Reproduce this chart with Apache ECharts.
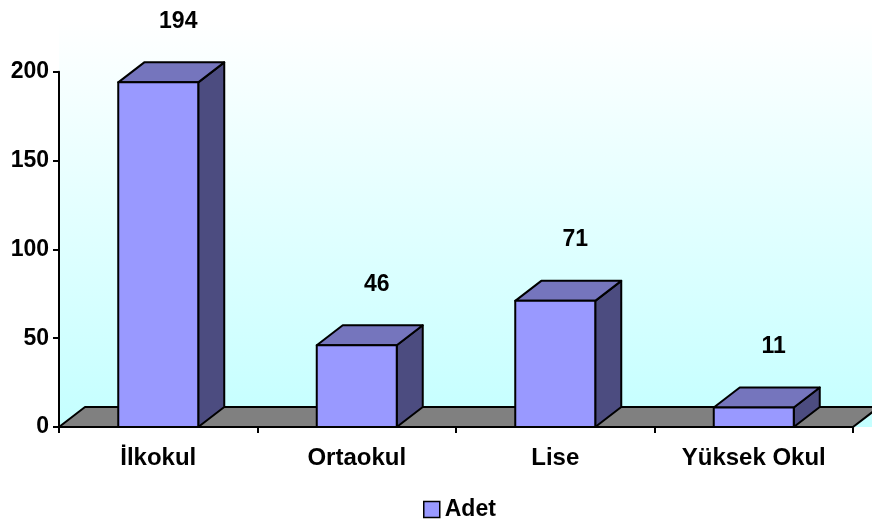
<!DOCTYPE html>
<html>
<head>
<meta charset="utf-8">
<script src="https://cdn.jsdelivr.net/npm/echarts@6/dist/echarts.min.js"></script>
<style>html,body{margin:0;padding:0;background:#fff;}#c{width:872px;height:530px;}</style>
</head>
<body>
<div id="c"></div>
<script>
const categories = ['İlkokul', 'Ortaokul', 'Lise', 'Yüksek Okul'];
const values = [194, 46, 71, 11];
const seriesName = 'Adet';
const yMin = 0, yMax = 200, yStep = 50;

const FONT = '"Liberation Sans", Arial, sans-serif';
const DX = 26, DY = -20;

const chart = echarts.init(document.getElementById('c'), null, {renderer: 'canvas'});

function renderFloor(params, api) {
  const cs = params.coordSys;
  const yb = cs.y + cs.height;
  return {
    type: 'group',
    children: [
      {
        type: 'rect',
        shape: {x: cs.x, y: 20, width: 872 - cs.x, height: yb - 20},
        style: {
          fill: new echarts.graphic.LinearGradient(0, 0, 0, 1, [
            {offset: 0, color: '#FFFFFF'},
            {offset: 1, color: '#C4FFFF'}
          ])
        },
        silent: true
      },
      {
        type: 'polygon',
        shape: {points: [[cs.x, yb], [cs.x + cs.width, yb], [cs.x + cs.width + DX, yb + DY], [cs.x + DX, yb + DY]]},
        style: {fill: '#808080', stroke: '#000', lineWidth: 2, lineJoin: 'round'},
        silent: true
      }
    ]
  };
}

function renderBar(params, api) {
  const i = api.value(0), v = api.value(1);
  const base = api.coord([i, 0]);
  const top = api.coord([i, v]);
  const w = api.size([1, 0])[0] * 0.403;
  const x0 = base[0] - w / 2, x1 = base[0] + w / 2;
  const yb = base[1], yt = top[1];
  const st = {stroke: '#000', lineWidth: 2, lineJoin: 'round'};
  return {
    type: 'group',
    children: [
      {type: 'polygon', shape: {points: [[x1, yt], [x1 + DX, yt + DY], [x1 + DX, yb + DY], [x1, yb]]},
        style: Object.assign({fill: '#4C4C80'}, st)},
      {type: 'polygon', shape: {points: [[x0, yt], [x0 + DX, yt + DY], [x1 + DX, yt + DY], [x1, yt]]},
        style: Object.assign({fill: '#7575BD'}, st)},
      {type: 'rect', shape: {x: x0, y: yt, width: w, height: yb - yt},
        style: Object.assign({fill: '#9999FF'}, st)},
      {type: 'text', x: base[0] + 20, y: yt + DY - 41,
        style: {text: String(v), fill: '#000', font: 'bold 23px ' + FONT, align: 'center', verticalAlign: 'middle'}}
    ]
  };
}

chart.setOption({
  animation: false,
  backgroundColor: '#fff',
  grid: {left: 59, right: 19, top: 71.7, bottom: 103, containLabel: false},
  legend: {
    data: [{name: seriesName, icon: 'rect'}],
    left: 418, top: 493,
    itemWidth: 16, itemHeight: 16, itemGap: 5,
    textStyle: {fontFamily: FONT, fontWeight: 'bold', fontSize: 23, color: '#000'},
    itemStyle: {borderColor: '#000', borderWidth: 1.5}
  },
  xAxis: {
    type: 'category',
    data: categories,
    boundaryGap: true,
    z: 5,
    axisLine: {lineStyle: {color: '#000', width: 2}},
    axisTick: {show: true, length: 6, lineStyle: {color: '#000', width: 2}},
    axisLabel: {margin: 19, color: '#000', fontFamily: FONT, fontWeight: 'bold', fontSize: 24}
  },
  yAxis: {
    type: 'value',
    min: yMin, max: yMax, interval: yStep,
    z: 5,
    axisLine: {show: true, lineStyle: {color: '#000', width: 2}},
    axisTick: {show: true, length: 6, lineStyle: {color: '#000', width: 2}},
    splitLine: {show: false},
    axisLabel: {margin: 10, color: '#000', fontFamily: FONT, fontWeight: 'bold', fontSize: 23}
  },
  series: [
    {
      name: '_floor',
      type: 'custom',
      z: 1,
      silent: true,
      renderItem: renderFloor,
      data: [[0, 0]],
      encode: {x: 0, y: 1}
    },
    {
      name: seriesName,
      type: 'custom',
      z: 10,
      itemStyle: {color: '#9999FF'},
      renderItem: renderBar,
      data: values.map((v, i) => [i, v]),
      encode: {x: 0, y: 1}
    }
  ]
});
</script>
</body>
</html>
